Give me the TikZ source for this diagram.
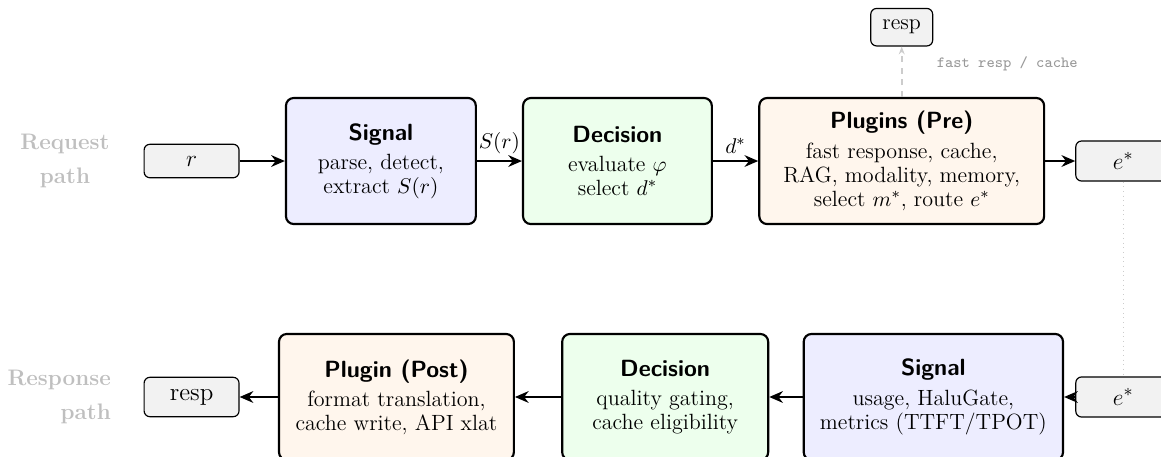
\documentclass[tikz,border=0pt]{standalone}
\usepackage{tikz}
\usetikzlibrary{arrows.meta}

\newcommand\bodyfont{\fontsize{11.3pt}{12.4pt}\selectfont}
\begin{document}
\begin{tikzpicture}[
stage/.style={draw, line width=1.1pt, rounded corners=4pt, align=center, font=\bodyfont, minimum height=2.27cm, inner ysep=5pt},
io/.style={draw, line width=0.6pt, rounded corners=3pt, fill=gray!10, inner sep=6pt},
flow/.style={-{Stealth[length=7pt, width=6pt]}, line width=1.1pt}]
\tikzstyle{pathlabel}=[font=\fontsize{11.5pt}{17pt}\selectfont\bfseries, text=gray!50]
\tikzstyle{ioport}=[io, font=\fontsize{12.8pt}{14pt}\selectfont, minimum width=1.71cm]
\def\ty{-2.90}
\def\by{-7.15}
\def\head#1{{\large\sffamily\bfseries #1}\\[2.5pt]}
\useasboundingbox (0,0) rectangle (20.91,-8.23);
%request path
\node[pathlabel, align=center] (reqlab) at (1.17,\ty) {Request\\path};
\node[ioport] (r) at (3.45,\ty) {$r$};
\node[stage, fill=blue!7, minimum width=3.42cm] (sig) at (6.86,\ty) {\head{Signal}parse, detect,\\extract $S(r)$};
\node[stage, fill=green!7, minimum width=3.40cm] (dec) at (11.12,\ty) {\head{Decision}evaluate $\varphi$\\select $d^*$};
\node[stage, fill=orange!7, minimum width=5.13cm] (pre) at (16.24,\ty) {\head{Plugins (Pre)}fast response, cache,\\RAG, modality, memory,\\select $m^*$, route $e^*$};
\node[ioport] (eout) at (20.23,\ty) {$e^*$};
\node[io, font=\bodyfont] (fast) at (16.24,-0.49) {resp};
\draw[flow] (r) -- (sig);
\draw[flow] (sig) -- node[above, font=\bodyfont] {$S(r)$} (dec);
\draw[flow] (dec) -- node[above, font=\bodyfont] {$d^*$} (pre);
\draw[flow] (pre) -- (eout);
\draw[dashed, gray!40, line width=0.8pt, -{Stealth[length=4pt]}] (pre) -- node[pos=0.66, right=0.5cm, font=\ttfamily\footnotesize, text=gray!80] {fast resp / cache} (fast);
%response path
\node[pathlabel, align=right, anchor=east] (reslab) at (2.12,\by) {Response\\path};
\node[ioport] (resp) at (3.45,\by) {resp};
\node[stage, fill=orange!7, minimum width=4.23cm] (post) at (7.14,\by) {\head{Plugin (Post)}format translation,\\cache write, API xlat};
\node[stage, fill=green!7, minimum width=3.71cm] (decb) at (11.98,\by) {\head{Decision}quality gating,\\cache eligibility};
\node[stage, fill=blue!7, minimum width=4.67cm] (sigb) at (16.81,\by) {\head{Signal}usage, HaluGate,\\metrics (TTFT/TPOT)};
\node[ioport] (ein) at (20.23,\by) {$e^*$};
\draw[flow] (ein) -- (sigb);
\draw[flow] (sigb) -- (decb);
\draw[flow] (decb) -- (post);
\draw[flow] (post) -- (resp);
\draw[dotted, gray!40] (eout) -- (ein);
\end{tikzpicture}
\end{document}
